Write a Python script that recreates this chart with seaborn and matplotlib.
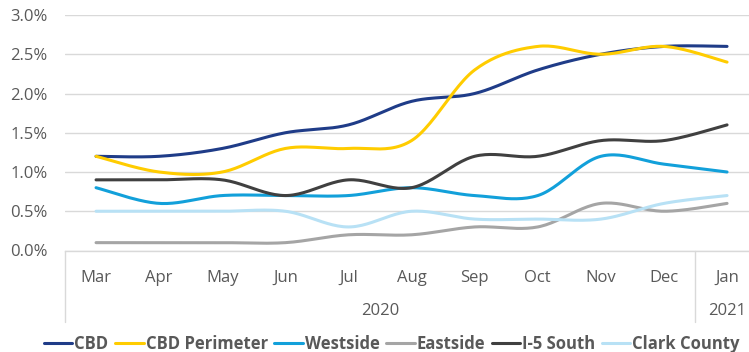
import numpy as np
import pandas as pd
import matplotlib
matplotlib.use("Agg")
import matplotlib.pyplot as plt
import matplotlib.transforms as mtransforms
from matplotlib.font_manager import FontProperties
import seaborn as sns

# Monthly vacancy-style rates (%) by submarket
months = ["Mar", "Apr", "May", "Jun", "Jul", "Aug", "Sep", "Oct", "Nov", "Dec", "Jan"]
years = ["2020", "2021"]
year_spans = [10, 1]

series_names = ["CBD", "CBD Perimeter", "Westside", "Eastside", "I-5 South", "Clark County"]
cbd = [1.2, 1.2, 1.3, 1.5, 1.6, 1.9, 2.0, 2.3, 2.5, 2.6, 2.6]
cbd_perimeter = [1.2, 1.0, 1.0, 1.3, 1.3, 1.4, 2.3, 2.6, 2.5, 2.6, 2.4]
westside = [0.8, 0.6, 0.7, 0.7, 0.7, 0.8, 0.7, 0.7, 1.2, 1.1, 1.0]
eastside = [0.1, 0.1, 0.1, 0.1, 0.2, 0.2, 0.3, 0.3, 0.6, 0.5, 0.6]
i5_south = [0.9, 0.9, 0.9, 0.7, 0.9, 0.8, 1.2, 1.2, 1.4, 1.4, 1.6]
clark_county = [0.5, 0.5, 0.5, 0.5, 0.3, 0.5, 0.4, 0.4, 0.4, 0.6, 0.7]

colors = ["#1F3C88", "#FFCC00", "#12A0DA", "#A5A5A5", "#404040", "#B8E1F5"]


def smooth(values, steps=24):
    """Bezier smoothing through every point (Catmull-Rom style control points)."""
    y = np.asarray(values, float)
    x = np.arange(len(y), dtype=float)
    n = len(y)
    xs, ys = [], []
    t = np.linspace(0, 1, steps, endpoint=False)
    for i in range(n - 1):
        im1 = max(i - 1, 0)
        ip2 = min(i + 2, n - 1)
        p0 = np.array([x[i], y[i]])
        p3 = np.array([x[i + 1], y[i + 1]])
        p1 = p0 + (np.array([x[i + 1], y[i + 1]]) - np.array([x[im1], y[im1]])) / 6
        p2 = p3 - (np.array([x[ip2], y[ip2]]) - np.array([x[i], y[i]])) / 6
        b = ((1 - t) ** 3)[:, None] * p0 + (3 * (1 - t) ** 2 * t)[:, None] * p1 \
            + (3 * (1 - t) * t ** 2)[:, None] * p2 + (t ** 3)[:, None] * p3
        xs.extend(b[:, 0])
        ys.extend(b[:, 1])
    xs.append(x[-1])
    ys.append(y[-1])
    return np.array(xs), np.array(ys)


frames = []
for name, vals in zip(series_names,
                      [cbd, cbd_perimeter, westside, eastside, i5_south, clark_county]):
    sx, sy = smooth(vals)
    frames.append(pd.DataFrame({"x": sx, "rate": sy, "Submarket": name}))
df = pd.concat(frames, ignore_index=True)

sns.set_style("white")
plt.rcParams["font.family"] = ["Open Sans", "DejaVu Sans"]

W, H = 749, 352
fig = plt.figure(figsize=(W / 100, H / 100), dpi=100)
left_px, right_px, top_px, bottom_px = 64.5, 758.6, 15.0, 250.5
ax = fig.add_axes([left_px / W, 1 - bottom_px / H,
                   (right_px - left_px) / W, (bottom_px - top_px) / H])

sns.lineplot(data=df, x="x", y="rate", hue="Submarket", hue_order=series_names,
             palette=colors, sort=False, estimator=None, linewidth=2.2,
             ax=ax, legend=True)
for ln in ax.get_lines():
    ln.set_solid_capstyle("round")
    ln.set_clip_on(False)

TICK_SIZE = 12
ax.set_xlim(-0.5, len(months) - 0.5)
ax.set_ylim(0, 3.0)
yt = np.arange(0, 3.01, 0.5)
ax.set_yticks(yt)
ax.set_yticklabels([f"{v:.1f}%" for v in yt])
ax.set_xticks(range(len(months)))
ax.set_xticklabels(months)
ax.tick_params(axis="both", length=0, labelsize=TICK_SIZE, labelcolor="#595959")
ax.tick_params(axis="y", pad=12)
ax.tick_params(axis="x", pad=14)
ax.yaxis.grid(True, color="#D9D9D9", linewidth=1)
ax.xaxis.grid(False)
ax.set_axisbelow(True)
for s in ["top", "right", "left"]:
    ax.spines[s].set_visible(False)
ax.spines["bottom"].set_color("#D9D9D9")
ax.spines["bottom"].set_linewidth(1)
ax.set_xlabel("")
ax.set_ylabel("")

# Multi-level category axis: year group labels and separators
blend = mtransforms.blended_transform_factory(ax.transData, fig.transFigure)
y_top = 1 - bottom_px / H
y_bot = 1 - 322 / H
start = -0.5
bounds = [start]
for yr, span in zip(years, year_spans):
    center = start + span / 2
    ax.text(center, 1 - 311 / H, yr, transform=blend, ha="center", va="center",
            fontsize=TICK_SIZE, color="#595959")
    start += span
    bounds.append(start)
for b in bounds:
    ax.plot([b, b], [y_top, y_bot], transform=blend, color="#D9D9D9",
            linewidth=1, clip_on=False)

handles, labels = ax.get_legend_handles_labels()
ax.get_legend().remove()
for h in handles:
    h.set_linewidth(2.2)
fig.legend(handles, labels, loc="center", bbox_to_anchor=(392 / W, 1 - 344 / H),
           ncol=6, frameon=False, handlelength=1.7, handletextpad=0.12,
           columnspacing=0.4,
           prop=FontProperties(family=["Open Sans", "DejaVu Sans"], weight="bold", size=12),
           labelcolor="#595959")

fig.savefig("out.png", dpi=100)
